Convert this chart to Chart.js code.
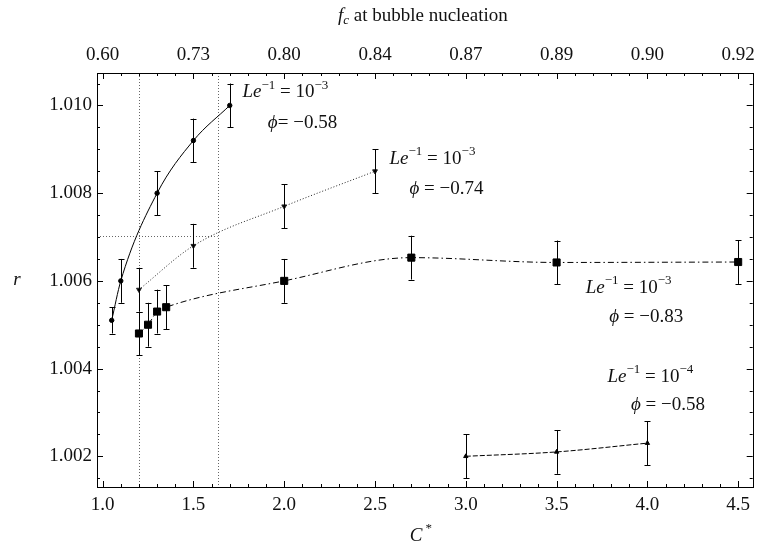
<!DOCTYPE html>
<html>
<head>
<meta charset="utf-8">
<script src="https://cdn.jsdelivr.net/npm/chart.js@4.4.0/dist/chart.umd.min.js"></script>
<style>
    html, body { margin: 0; padding: 0; background: #fff; }
</style>
</head>
<body>
<canvas id="myChart" width="762" height="551"></canvas>
<script>
(function() {

    'use strict';

    // C* positions, r values and error half-widths for each curve
    var c1 = [ 1.05, 1.1, 1.3, 1.5, 1.7 ];
    var r1 = [ 1.0051, 1.0060, 1.0080, 1.0092, 1.0100 ];
    var e1 = [ 0.0003, 0.0005, 0.0005, 0.0005, 0.0005 ];

    var c2 = [ 1.2, 1.5, 2.0, 2.5 ];
    var r2 = [ 1.0058, 1.0068, 1.0077, 1.0085 ];
    var e2 = [ 0.0005, 0.0005, 0.0005, 0.0005 ];

    var c3 = [ 1.2, 1.25, 1.3, 1.35, 2.0, 2.7, 3.5, 4.5 ];
    var r3 = [ 1.0048, 1.0050, 1.0053, 1.0054, 1.0060, 1.00653, 1.00642, 1.00643 ];
    var e3 = [ 0.0005, 0.0005, 0.0005, 0.0005, 0.0005, 0.0005, 0.0005, 0.0005 ];

    var c4 = [ 3.0, 3.5, 4.0 ];
    var r4 = [ 1.0020, 1.0021, 1.0023 ];
    var e4 = [ 0.0005, 0.0005, 0.0005 ];

    // axis ticks
    var xTicks = [ 1.0, 1.5, 2.0, 2.5, 3.0, 3.5, 4.0, 4.5 ];
    var fcLabels = [ '0.60', '0.73', '0.80', '0.84', '0.87', '0.89', '0.90', '0.92' ];
    var yTicks = [ 1.002, 1.004, 1.006, 1.008, 1.010 ];

    // guide lines
    var guideC = [ 1.2, 1.633 ];
    var guideR = 1.00703;

    var FONT = '"Liberation Serif", "Times New Roman", serif';

    function le(exp) {
        return [ { t: 'Le', it: true }, { t: '\u22121', sup: true }, { t: ' = 10' }, { t: '\u2212' + exp, sup: true } ];
    }
    function phi(val, gap) {
        return [ { t: '\u03d5', it: true }, { t: (gap ? ' = ' : '= ') + '\u2212' + val } ];
    }

    var notes = [
        { x: 1.77, y: 1.01030, parts: le(3) },
        { x: 1.91, y: 1.00959, parts: phi('0.58', false) },
        { x: 2.58, y: 1.00879, parts: le(3) },
        { x: 2.69, y: 1.00809, parts: phi('0.74', true) },
        { x: 3.66, y: 1.00584, parts: le(3) },
        { x: 3.79, y: 1.00518, parts: phi('0.83', true) },
        { x: 3.78, y: 1.00381, parts: le(4) },
        { x: 3.91, y: 1.00317, parts: phi('0.58', true) }
    ];

    function points(cs, rs) {
        return cs.map(function(c, i) { return { x: c, y: rs[i] }; });
    }

    function fontFor(p) {
        var s = (p.sup || p.sub) ? 13 : 19;
        return (p.it ? 'italic ' : '') + s + 'px ' + FONT;
    }

    function richText(ctx, parts, x, y, align) {
        var w = 0;
        parts.forEach(function(p) {
            ctx.font = fontFor(p);
            p.w = ctx.measureText(p.t).width;
            w += p.w;
        });
        var cx = align === 'center' ? x - w / 2 : x;
        ctx.textAlign = 'left';
        ctx.textBaseline = 'middle';
        parts.forEach(function(p) {
            ctx.font = fontFor(p);
            var dy = p.sup ? -7 : (p.sub ? 5 : 0);
            ctx.fillText(p.t, cx, y + dy);
            cx += p.w;
        });
    }

    var errorSets = [ e1, e2, e3, e4 ];

    var framePlugin = {
        id: 'frame',
        beforeDatasetsDraw: function(chart) {
            var ctx = chart.ctx, a = chart.chartArea;
            var xs = chart.scales.x, ys = chart.scales.y;
            ctx.save();
            ctx.strokeStyle = '#666';
            ctx.lineWidth = 1;
            ctx.setLineDash([ 1, 2 ]);
            guideC.forEach(function(c) {
                var px = Math.round(xs.getPixelForValue(c)) + 0.5;
                ctx.beginPath();
                ctx.moveTo(px, a.top);
                ctx.lineTo(px, a.bottom);
                ctx.stroke();
            });
            var py = Math.round(ys.getPixelForValue(guideR)) + 0.5;
            ctx.beginPath();
            ctx.moveTo(a.left, py);
            ctx.lineTo(xs.getPixelForValue(guideC[1]), py);
            ctx.stroke();
            ctx.restore();
        },
        afterDatasetsDraw: function(chart) {
            var ctx = chart.ctx, a = chart.chartArea;
            var xs = chart.scales.x, ys = chart.scales.y;
            ctx.save();
            ctx.strokeStyle = '#000';
            ctx.lineWidth = 1;
            ctx.setLineDash([]);

            // error bars
            chart.data.datasets.forEach(function(ds, i) {
                var err = errorSets[i];
                ds.data.forEach(function(pt, j) {
                    var px = Math.round(xs.getPixelForValue(pt.x)) + 0.5;
                    var top = ys.getPixelForValue(pt.y + err[j]);
                    var bot = ys.getPixelForValue(pt.y - err[j]);
                    ctx.beginPath();
                    ctx.moveTo(px, top);
                    ctx.lineTo(px, bot);
                    ctx.moveTo(px - 3, Math.round(top) + 0.5);
                    ctx.lineTo(px + 3, Math.round(top) + 0.5);
                    ctx.moveTo(px - 3, Math.round(bot) + 0.5);
                    ctx.lineTo(px + 3, Math.round(bot) + 0.5);
                    ctx.stroke();
                });
            });

            // frame
            ctx.strokeRect(Math.round(a.left) + 0.5, Math.round(a.top) + 0.5,
                Math.round(a.right - a.left), Math.round(a.bottom - a.top));

            // inward ticks on all four sides
            function xTick(v, len) {
                var px = Math.round(xs.getPixelForValue(v)) + 0.5;
                ctx.beginPath();
                ctx.moveTo(px, a.bottom);
                ctx.lineTo(px, a.bottom - len);
                ctx.moveTo(px, a.top);
                ctx.lineTo(px, a.top + len);
                ctx.stroke();
            }
            function yTick(v, len) {
                var py = Math.round(ys.getPixelForValue(v)) + 0.5;
                ctx.beginPath();
                ctx.moveTo(a.left, py);
                ctx.lineTo(a.left + len, py);
                ctx.moveTo(a.right, py);
                ctx.lineTo(a.right - len, py);
                ctx.stroke();
            }
            var k;
            for (k = Math.ceil(xs.min * 10); k <= Math.floor(xs.max * 10); k++) {
                xTick(k / 10, k % 5 === 0 ? 6 : 3);
            }
            for (k = Math.ceil(ys.min * 2000); k <= Math.floor(ys.max * 2000); k++) {
                yTick(k / 2000, k % 4 === 0 ? 6 : 3);
            }

            // annotations
            ctx.fillStyle = '#111';
            notes.forEach(function(n) {
                richText(ctx, n.parts, xs.getPixelForValue(n.x), ys.getPixelForValue(n.y), 'left');
            });

            // axis titles
            var midX = (a.left + a.right) / 2;
            richText(ctx, [ { t: 'C', it: true }, { t: ' *', sup: true } ], midX - 4, 536, 'center');
            richText(ctx, [ { t: 'r', it: true } ], 17, (a.top + a.bottom) / 2, 'center');
            richText(ctx, [ { t: 'f', it: true }, { t: 'c', it: true, sub: true }, { t: ' at bubble nucleation' } ], midX - 2, 16, 'center');
            ctx.restore();
        }
    };

    function setTicks(list) {
        return function(scale) {
            scale.ticks = list.map(function(v) { return { value: v }; });
        };
    }

    var tickFont = { family: FONT, size: 19 };

    var ctx = document.getElementById('myChart');
    var myChart = new Chart(ctx, {
        type: 'line',
        data: {
            datasets: [ {
                data: points(c1, r1),
                borderColor: '#000',
                backgroundColor: '#000',
                borderWidth: 1,
                pointStyle: 'circle',
                pointRadius: 2.2,
                cubicInterpolationMode: 'monotone'
            }, {
                data: points(c2, r2),
                borderColor: '#222',
                backgroundColor: '#000',
                borderWidth: 1,
                borderDash: [ 1, 2 ],
                pointStyle: 'triangle',
                rotation: 180,
                pointRadius: 2.8,
                cubicInterpolationMode: 'monotone'
            }, {
                data: points(c3, r3),
                borderColor: '#000',
                backgroundColor: '#000',
                borderWidth: 1,
                borderDash: [ 6, 3, 1.5, 3 ],
                pointStyle: 'rect',
                pointRadius: 5,
                cubicInterpolationMode: 'monotone'
            }, {
                data: points(c4, r4),
                borderColor: '#000',
                backgroundColor: '#000',
                borderWidth: 1,
                borderDash: [ 5, 2 ],
                pointStyle: 'triangle',
                pointRadius: 2.5,
                cubicInterpolationMode: 'monotone'
            } ]
        },
        options: {
            responsive: false,
            animation: false,
            layout: { padding: { left: 0, right: 9, top: 0, bottom: 0 } },
            plugins: {
                legend: { display: false },
                tooltip: { enabled: false }
            },
            scales: {
                x: {
                    type: 'linear',
                    position: 'bottom',
                    min: 0.969,
                    max: 4.58,
                    grid: { display: false, drawTicks: false },
                    border: { display: false },
                    afterBuildTicks: setTicks(xTicks),
                    afterFit: function(s) { s.height = 64; },
                    ticks: {
                        font: tickFont,
                        color: '#111',
                        padding: 7,
                        maxRotation: 0,
                        autoSkip: false,
                        callback: function(v) { return v.toFixed(1); }
                    }
                },
                x2: {
                    type: 'linear',
                    position: 'top',
                    min: 0.969,
                    max: 4.58,
                    grid: { display: false, drawTicks: false },
                    border: { display: false },
                    afterBuildTicks: setTicks(xTicks),
                    afterFit: function(s) { s.height = 73; },
                    ticks: {
                        font: tickFont,
                        color: '#111',
                        padding: 7,
                        maxRotation: 0,
                        autoSkip: false,
                        callback: function(v, i) { return fcLabels[i]; }
                    }
                },
                y: {
                    type: 'linear',
                    position: 'left',
                    min: 1.0013,
                    max: 1.01074,
                    grid: { display: false, drawTicks: false },
                    border: { display: false },
                    afterBuildTicks: setTicks(yTicks),
                    afterFit: function(s) { s.width = 97; },
                    ticks: {
                        font: tickFont,
                        color: '#111',
                        padding: 5,
                        autoSkip: false,
                        callback: function(v) { return v.toFixed(3); }
                    }
                }
            }
        },
        plugins: [ framePlugin ]
    });

})();
</script>
</body>
</html>
